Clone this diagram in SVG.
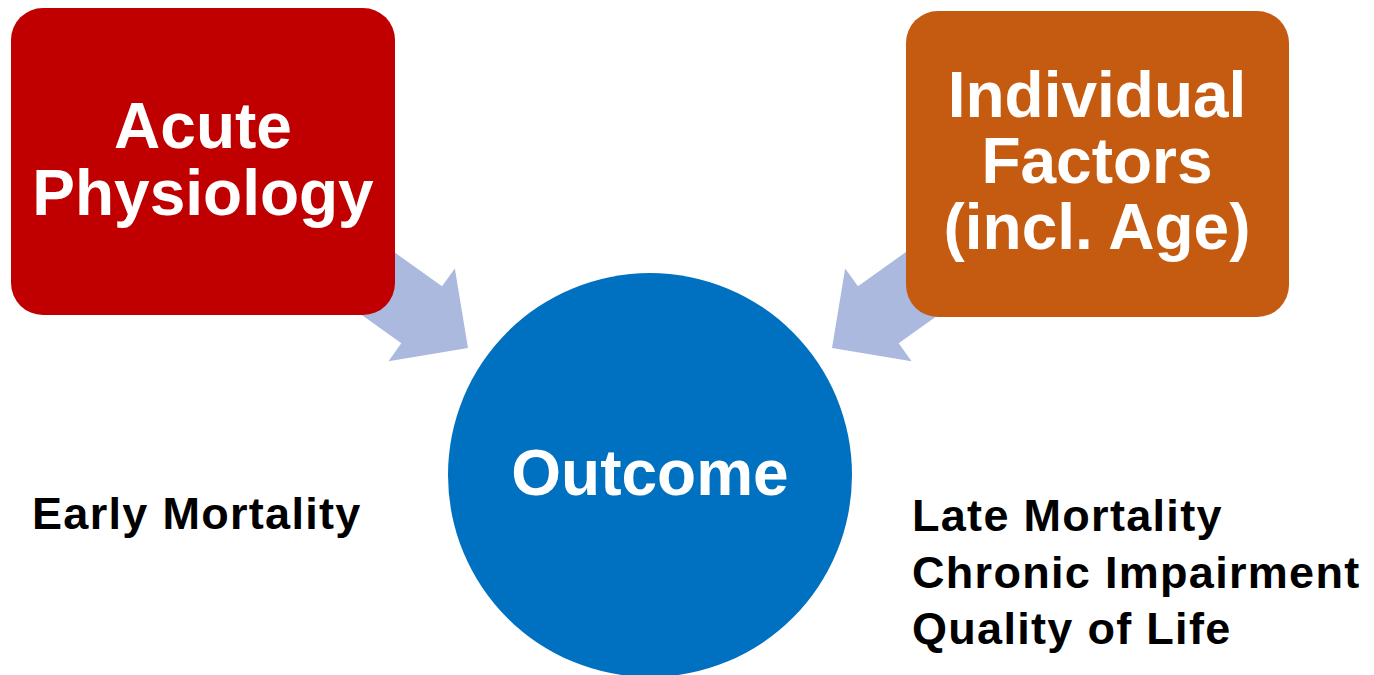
<svg xmlns="http://www.w3.org/2000/svg" width="1374" height="675" viewBox="0 0 1374 675">
  <defs>
    <linearGradient id="arrowFill" gradientUnits="userSpaceOnUse" x1="0" y1="245" x2="0" y2="365">
      <stop offset="0" stop-color="#abb9df"/>
      <stop offset="1" stop-color="#93a2cb"/>
    </linearGradient>
    <polygon id="blockArrow" points="0,0 -57,-57 -57,-35 -230,-35 -230,35 -57,35 -57,57"/>
  </defs>
  <style>
    .box-text { font-family: "Liberation Sans", Arial, sans-serif; font-weight: bold; font-size: 64px; fill: #ffffff; text-anchor: middle; }
    .note { font-family: "Liberation Sans", Arial, sans-serif; font-weight: bold; font-size: 45px; letter-spacing: 1.3px; fill: #000000; }
    .arrow { fill: url(#arrowFill); }
  </style>
  <rect width="1374" height="675" fill="#ffffff"/>

  <!-- block arrows pointing into the outcome circle -->
  <g id="connectors">
    <use href="#blockArrow" class="arrow" transform="translate(468,348) rotate(35.6)"/>
    <use href="#blockArrow" class="arrow" transform="translate(832,348) rotate(144.4)"/>
  </g>

  <g id="acute-physiology">
    <rect x="11" y="8" width="384" height="307" rx="32" ry="32" fill="#c00000"/>
    <text class="box-text" x="203" y="148">Acute</text>
    <text class="box-text" x="203" y="215">Physiology</text>
  </g>

  <g id="individual-factors">
    <rect x="906" y="11" width="383" height="306" rx="32" ry="32" fill="#c55a11"/>
    <text class="box-text" x="1097" y="117">Individual</text>
    <text class="box-text" x="1097" y="183">Factors</text>
    <text class="box-text" x="1097" y="249">(incl. Age)</text>
  </g>

  <g id="outcome">
    <circle cx="650" cy="475" r="202" fill="#0070c0"/>
    <text class="box-text" x="650" y="495">Outcome</text>
  </g>

  <g id="early-label">
    <text class="note" x="32" y="529">Early Mortality</text>
  </g>

  <g id="late-label">
    <text class="note" x="912" y="531">Late Mortality</text>
    <text class="note" x="912" y="588">Chronic Impairment</text>
    <text class="note" x="912" y="644">Quality of Life</text>
  </g>
</svg>
